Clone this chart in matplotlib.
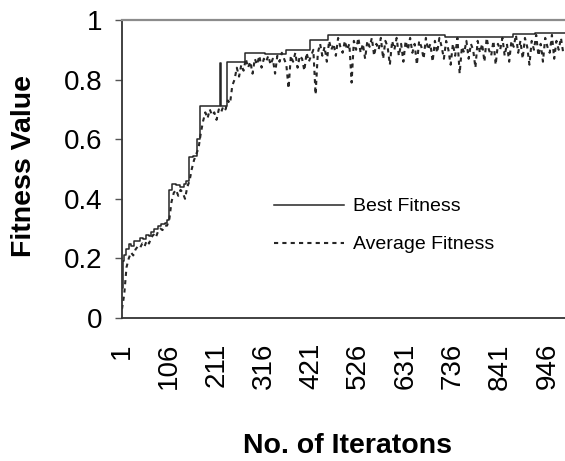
import matplotlib
matplotlib.use("Agg")
import matplotlib.pyplot as plt
import numpy as np

plt.rcParams["font.family"] = ["Liberation Sans", "DejaVu Sans"]

# best fitness, as step breakpoints (iteration, value)
best_iter = [1, 3, 6, 10, 16, 22, 28, 36, 42, 48, 54, 60, 66, 72, 80, 88, 96, 100,
             105, 112, 120, 130, 138, 143, 150, 158, 167, 174, 219, 221, 234, 274,
             319, 365, 419, 459, 719, 870, 919, 985]
best_val = [0.10, 0.19, 0.21, 0.23, 0.25, 0.24, 0.26, 0.26, 0.27, 0.265, 0.28, 0.275,
            0.29, 0.30, 0.31, 0.315, 0.32, 0.33, 0.43, 0.45, 0.445, 0.44, 0.45, 0.46,
            0.54, 0.545, 0.60, 0.71, 0.855, 0.71, 0.86, 0.89, 0.885, 0.90, 0.933,
            0.95, 0.944, 0.952, 0.958, 0.958]

# average fitness, read every 5th iteration
avg_step = 5
avg_val = [
    0.03, 0.08, 0.17, 0.20, 0.22, 0.21, 0.23, 0.24, 0.235, 0.25,
    0.24, 0.26, 0.25, 0.27, 0.28, 0.27, 0.29, 0.30, 0.295, 0.31,
    0.31, 0.33, 0.39, 0.42, 0.43, 0.41, 0.43, 0.42, 0.40, 0.44,
    0.46, 0.50, 0.53, 0.55, 0.57, 0.62, 0.66, 0.69, 0.67, 0.70,
    0.68, 0.69, 0.665, 0.70, 0.69, 0.71, 0.70, 0.73, 0.72, 0.78,
    0.80, 0.84, 0.81, 0.85, 0.83, 0.87, 0.84, 0.86, 0.82, 0.87,
    0.85, 0.88, 0.84, 0.87, 0.86, 0.88, 0.85, 0.87, 0.82, 0.88,
    0.86, 0.89, 0.87, 0.85, 0.77, 0.88, 0.86, 0.89, 0.84, 0.88,
    0.87, 0.83, 0.89, 0.86, 0.88, 0.90, 0.75, 0.89, 0.92, 0.88,
    0.91, 0.86, 0.93, 0.90, 0.92, 0.88, 0.94, 0.91, 0.89, 0.93,
    0.90, 0.92, 0.79, 0.93, 0.90, 0.94, 0.89, 0.92, 0.87, 0.93,
    0.91, 0.94, 0.88, 0.92, 0.90, 0.94, 0.87, 0.93, 0.91, 0.85,
    0.93, 0.90, 0.94, 0.88, 0.92, 0.86, 0.93, 0.90, 0.94, 0.89,
    0.92, 0.85, 0.93, 0.91, 0.87, 0.94, 0.90, 0.92, 0.86, 0.93,
    0.89, 0.94, 0.91, 0.87, 0.93, 0.90, 0.85, 0.92, 0.88, 0.94,
    0.82, 0.91, 0.89, 0.93, 0.87, 0.92, 0.90, 0.84, 0.93, 0.89,
    0.92, 0.86, 0.94, 0.90, 0.88, 0.93, 0.85, 0.92, 0.90, 0.94,
    0.88, 0.92, 0.86, 0.93, 0.91, 0.95, 0.89, 0.93, 0.87, 0.94,
    0.91, 0.85, 0.93, 0.90, 0.95, 0.88, 0.92, 0.86, 0.94, 0.91,
    0.89, 0.95, 0.87, 0.93, 0.90, 0.94, 0.89,
]
avg_iter = np.arange(1, 1 + avg_step * len(avg_val), avg_step)

x_ticks = [1, 106, 211, 316, 421, 526, 631, 736, 841, 946]
y_ticks = [0, 0.2, 0.4, 0.6, 0.8, 1]
y_tick_labels = ["0", "0.2", "0.4", "0.6", "0.8", "1"]

line_color = "#262626"

fig = plt.figure(figsize=(5.65, 4.61), dpi=100)
ax = fig.add_axes([122 / 565, 143 / 461, 443 / 565, 298 / 461])

ax.plot(best_iter, best_val, drawstyle="steps-post", color=line_color, lw=1.1,
        label="Best Fitness")
ax.plot(avg_iter, avg_val, color=line_color, lw=1.5, linestyle=(0, (2.0, 2.0)),
        label="Average Fitness")

ax.set_xlim(1, 985)
ax.set_ylim(0, 1)
ax.set_xticks(x_ticks)
ax.set_xticklabels([str(t) for t in x_ticks], rotation=90, fontsize=20)
ax.set_yticks(y_ticks)
ax.set_yticklabels(y_tick_labels, fontsize=20)
ax.tick_params(axis="x", length=0, pad=18)
ax.tick_params(axis="y", length=5, width=1, color="#555555", pad=9)

for side in ("left", "bottom"):
    ax.spines[side].set_color("#333333")
    ax.spines[side].set_linewidth(1.3)
ax.spines["right"].set_visible(False)
ax.spines["top"].set_color("#8c8c8c")
ax.spines["top"].set_linewidth(1.6)

ax.set_ylabel("Fitness Value", fontsize=20.5, fontweight="bold")
ax.yaxis.set_label_coords(-0.193, 0.51)
ax.set_xlabel("No. of Iteratons", fontsize=20.5, fontweight="bold")
ax.xaxis.set_label_coords(0.508, -0.386)

ax.legend(loc="center left", bbox_to_anchor=(0.342, 0.31), frameon=False,
          fontsize=14, handlelength=3.6, handletextpad=0.5, labelspacing=1.05,
          borderpad=0, borderaxespad=0)

fig.savefig("out.png", dpi=100)
